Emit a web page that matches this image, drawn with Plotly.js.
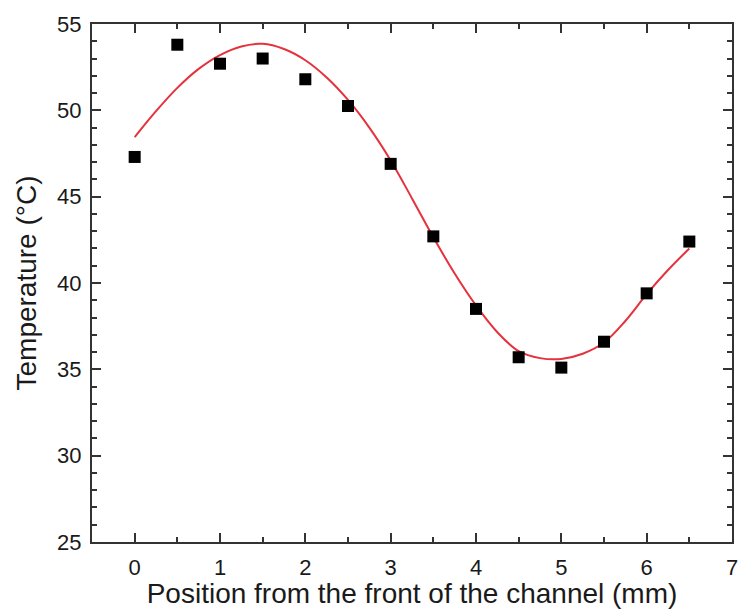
<!DOCTYPE html>
<html>
<head>
<meta charset="utf-8">
<script src="https://cdn.plot.ly/plotly-3.0.1.min.js"></script>
<style>html,body{margin:0;padding:0;background:#fff;}#chart{width:740px;height:609px;}</style>
</head>
<body>
<div id="chart"></div>
<script>
// Measured data points
const positions = [0, 0.5, 1, 1.5, 2, 2.5, 3, 3.5, 4, 4.5, 5, 5.5, 6, 6.5];
const temperatures = [47.3, 53.8, 52.7, 53.0, 51.8, 50.25, 46.9, 42.7, 38.5, 35.7, 35.1, 36.6, 39.4, 42.4];

// Fitted curve
const fitX = [0, 0.25, 0.5, 0.75, 1, 1.25, 1.5, 1.75, 2, 2.25, 2.5, 2.75, 3, 3.25, 3.5, 3.75, 4, 4.25, 4.5, 4.75, 5, 5.25, 5.5, 5.75, 6, 6.25, 6.5];
const fitY = [48.45, 49.95, 51.3, 52.4, 53.2, 53.7, 53.85, 53.55, 52.9, 51.9, 50.6, 49.0, 47.1, 44.9, 42.65, 40.55, 38.7, 37.15, 36.05, 35.65, 35.6, 35.9, 36.55, 37.8, 39.35, 40.75, 42.0];

const xTicks = [0, 1, 2, 3, 4, 5, 6, 7];
const yTicks = [25, 30, 35, 40, 45, 50, 55];

const font = 'Liberation Sans, Arial, sans-serif';
const axisColor = '#333333';
const textColor = '#1a1a1a';

const traces = [
  {
    x: fitX, y: fitY, type: 'scatter', mode: 'lines',
    line: {color: '#e5323c', width: 2, shape: 'spline'},
    hoverinfo: 'skip'
  },
  {
    x: positions, y: temperatures, type: 'scatter', mode: 'markers',
    marker: {symbol: 'square', size: 12, color: '#000000'}
  }
];

const layout = {
  width: 740, height: 609,
  margin: {l: 92, r: 8, t: 24, b: 67},
  paper_bgcolor: '#ffffff', plot_bgcolor: '#ffffff',
  showlegend: false,
  font: {family: font, color: textColor},
  xaxis: {
    range: [-0.5, 7], tickvals: xTicks, ticktext: xTicks.map(String),
    showgrid: false, zeroline: false,
    showline: true, linecolor: axisColor, linewidth: 2, mirror: 'allticks',
    ticks: 'inside', ticklen: 9, tickwidth: 2, tickcolor: axisColor,
    minor: {dtick: 0.5, tick0: 0, ticks: 'inside', ticklen: 5, tickwidth: 2, tickcolor: axisColor, showgrid: false},
    tickfont: {size: 22, family: font, color: textColor},
    ticklabelstandoff: 5,
    ticklabeloverflow: 'allow',
    title: {text: 'Position from the front of the channel (mm)', font: {size: 28, family: font, color: textColor}, standoff: 4}
  },
  yaxis: {
    range: [25, 55], tickvals: yTicks, ticktext: yTicks.map(String),
    showgrid: false, zeroline: false,
    showline: true, linecolor: axisColor, linewidth: 2, mirror: 'allticks',
    ticks: 'inside', ticklen: 9, tickwidth: 2, tickcolor: axisColor,
    minor: {dtick: 1, tick0: 25, ticks: 'inside', ticklen: 5, tickwidth: 2, tickcolor: axisColor, showgrid: false},
    tickfont: {size: 22, family: font, color: textColor},
    ticklabelstandoff: 4,
    ticklabeloverflow: 'allow',
    title: {text: 'Temperature (°C)', font: {size: 28, family: font, color: textColor}, standoff: 12}
  }
};

Plotly.newPlot('chart', traces, layout, {displayModeBar: false, staticPlot: true});
</script>
</body>
</html>
